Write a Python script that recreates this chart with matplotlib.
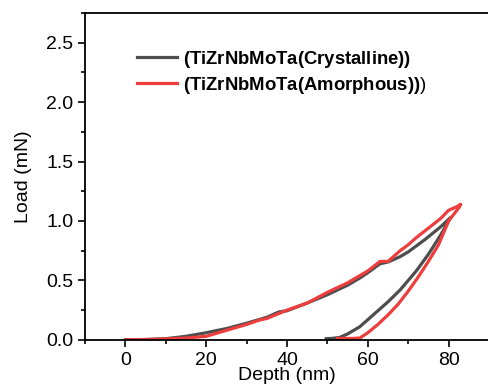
import matplotlib
matplotlib.use("Agg")
import matplotlib.pyplot as plt
from matplotlib.ticker import MultipleLocator

plt.rcParams['font.family'] = ['Liberation Sans', 'DejaVu Sans']
plt.rcParams['mathtext.fontset'] = 'custom'
plt.rcParams['mathtext.rm'] = 'Liberation Sans'
plt.rcParams['mathtext.bf'] = 'Liberation Sans:bold'

# crystalline film: loading + unloading
cry_load_x = [0, 5, 10, 15, 20, 25, 30, 35, 38, 40, 45, 50, 55, 58, 60, 63, 65, 68, 70, 74, 78, 80.5]
cry_load_y = [0, 0.003, 0.01, 0.03, 0.06, 0.095, 0.14, 0.19, 0.235, 0.245, 0.31, 0.38, 0.46, 0.52,
              0.565, 0.64, 0.655, 0.70, 0.74, 0.84, 0.95, 1.03]
cry_unl_x = [80.5, 78, 75, 72, 68, 65, 62, 60, 58, 55, 53, 51, 49.7]
cry_unl_y = [1.03, 0.88, 0.72, 0.58, 0.42, 0.32, 0.23, 0.17, 0.11, 0.05, 0.02, 0.012, 0.01]

# amorphous film: loading + unloading
amo_load_x = [0, 5, 10, 15, 20, 25, 30, 33, 35, 40, 45, 50, 55, 60, 63, 65, 68, 70, 72, 75, 78, 80, 82, 83]
amo_load_y = [0, 0.003, 0.008, 0.015, 0.03, 0.08, 0.13, 0.165, 0.18, 0.25, 0.31, 0.40, 0.48, 0.58,
              0.66, 0.66, 0.75, 0.80, 0.86, 0.94, 1.02, 1.09, 1.12, 1.14]
amo_unl_x = [83, 82.5, 80, 77.5, 75, 72.5, 70, 67.5, 65, 62.5, 60, 58, 56, 54, 52.5]
amo_unl_y = [1.14, 1.11, 1.0, 0.80, 0.66, 0.53, 0.41, 0.30, 0.21, 0.13, 0.06, 0.015, 0.012, 0.012, 0.012]

gray = '#4d4d4d'
red = '#ee3d3d'

fig = plt.figure(figsize=(4.89, 3.92), dpi=100)
ax = fig.add_axes([0.174, 0.133, 0.826, 0.834])

ax.plot(cry_load_x + cry_unl_x, cry_load_y + cry_unl_y, color=gray, lw=2.3,
        label=r'$\mathbf{(TiZrNbMoTa(Crystalline))}$')
ax.plot(amo_load_x + amo_unl_x, amo_load_y + amo_unl_y, color=red, lw=2.3,
        label=r'$\mathbf{(TiZrNbMoTa(Amorphous))}$)')

ax.set_xlim(-10, 90)
ax.set_ylim(0, 2.75)
ax.xaxis.set_major_locator(MultipleLocator(20))
ax.xaxis.set_minor_locator(MultipleLocator(10))
ax.yaxis.set_major_locator(MultipleLocator(0.5))
ax.yaxis.set_minor_locator(MultipleLocator(0.25))
ax.tick_params(which='major', direction='out', length=5, width=1.2, labelsize=14)
ax.tick_params(which='minor', direction='out', length=3, width=1.2)
ax.yaxis.set_major_formatter(matplotlib.ticker.FormatStrFormatter('%.1f'))
for s in ax.spines.values():
    s.set_linewidth(1.3)

ax.set_xlabel('Depth (nm)', fontsize=14, labelpad=-1)
ax.set_ylabel('Load (mN)', fontsize=14, labelpad=10)

ax.legend(loc='upper left', bbox_to_anchor=(0.129, 0.89), frameon=False, fontsize=13.3,
          borderaxespad=0, borderpad=0,
          handlelength=2.16, handletextpad=0.3, labelspacing=0.25)

fig.savefig('out.png', dpi=100)
